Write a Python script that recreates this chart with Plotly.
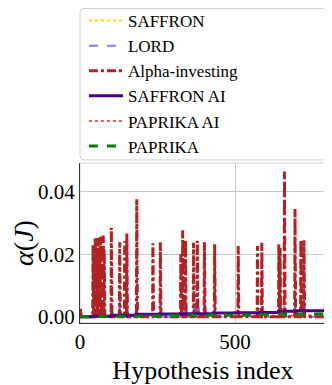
import plotly.graph_objects as go

# x extent of the run (hypothesis index)
n_hyp = 793

# Alpha-investing: spike positions and peak heights
ai_idx = [2, 42, 45, 49, 53, 58, 62, 66, 70, 75, 78, 101, 128, 144, 151, 183,
          235, 259, 325, 331, 340, 366, 378, 401, 434, 510, 572, 586, 641, 645,
          659, 693, 712, 722, 792]
ai_val = [0.0025, 0.0230, 0.0200, 0.0256, 0.0210, 0.0252, 0.0220, 0.0256, 0.0230,
          0.0260, 0.0215, 0.0285, 0.0238, 0.0242, 0.0267, 0.0376, 0.0235, 0.0238,
          0.0200, 0.0277, 0.0245, 0.0237, 0.0243, 0.0238, 0.0232, 0.0226, 0.0226,
          0.0237, 0.0232, 0.0220, 0.0465, 0.0345, 0.0245, 0.0245, 0.0232]

# LORD: small bumps after rejections
lord_idx = [45, 58, 75, 101, 128, 151, 185, 259, 333, 340, 370, 380, 401, 434,
            645, 659, 693, 712, 722, 790]
lord_val = [0.0040, 0.0053, 0.0045, 0.0030, 0.0048, 0.0035, 0.0028, 0.0048,
            0.0053, 0.0040, 0.0055, 0.0050, 0.0055, 0.0030, 0.0060, 0.0040,
            0.0035, 0.0055, 0.0045, 0.0070]

# SAFFRON AI: slowly increasing level
sai_x = [0, 40, 100, 180, 260, 340, 430, 500, 580, 640, 700, 793]
sai_y = [0.0, 0.0002, 0.0005, 0.0008, 0.0009, 0.0010, 0.0012, 0.0013, 0.0014,
         0.0018, 0.0019, 0.0020]

# PAPRIKA
pap_x = [0, 100, 200, 300, 400, 500, 600, 700, 793]
pap_y = [0.0, 0.0002, 0.0003, 0.0004, 0.0005, 0.0006, 0.0007, 0.0008, 0.0009]

# SAFFRON and PAPRIKA AI stay close to zero
saf_x = [0, 200, 400, 600, 793]
saf_y = [0.0, 0.0001, 0.0002, 0.0003, 0.0003]
pai_x = [0, 200, 400, 600, 793]
pai_y = [0.0, 0.0001, 0.0002, 0.0003, 0.0004]


def spikes(idx, val, base=0.0, after=2):
    xs, ys = [0], [base]
    for i, v in zip(idx, val):
        xs += [max(i - 1, 0), i, i + after]
        ys += [base, v, base]
    xs.append(n_hyp)
    ys.append(base)
    return xs, ys


FONT = "Liberation Serif, Times New Roman, serif"

ax, ay = spikes(ai_idx, ai_val)
lx, ly = spikes(lord_idx, lord_val, after=6)

fig = go.Figure()
fig.add_trace(go.Scatter(x=saf_x, y=saf_y, mode="lines", name="SAFFRON", legendrank=1,
                         line=dict(color="#FFD700", width=2, dash="dot")))
fig.add_trace(go.Scatter(x=pai_x, y=pai_y, mode="lines", name="PAPRIKA AI", legendrank=5,
                         line=dict(color="#E06060", width=2, dash="dot")))
fig.add_trace(go.Scatter(x=lx, y=ly, mode="lines", name="LORD", legendrank=2,
                         line=dict(color="#7B7BFF", width=2, dash="dash")))
fig.add_trace(go.Scatter(x=ax, y=ay, mode="lines", name="Alpha-investing", legendrank=3,
                         line=dict(color="#B22222", width=3, dash="dashdot")))
fig.add_trace(go.Scatter(x=sai_x, y=sai_y, mode="lines", name="SAFFRON AI", legendrank=4,
                         line=dict(color="#4B0082", width=3, shape="hv")))
fig.add_trace(go.Scatter(x=pap_x, y=pap_y, mode="lines", name="PAPRIKA", legendrank=6,
                         line=dict(color="#008000", width=3, dash="dash")))

# legend frame (rounded)
rx, ry = 0.016, 0.025
x0, x1, y0, y1 = 0.0, 1.0, 1.019, 1.9656
path = (f"M {x0+rx},{y0} L {x1-rx},{y0} Q {x1},{y0} {x1},{y0+ry} "
        f"L {x1},{y1-ry} Q {x1},{y1} {x1-rx},{y1} L {x0+rx},{y1} "
        f"Q {x0},{y1} {x0},{y1-ry} L {x0},{y0+ry} Q {x0},{y0} {x0+rx},{y0} Z")
fig.add_shape(type="path", path=path, xref="paper", yref="paper",
              line=dict(color="#D0D0D0", width=1))
# light frame on top / right of the axes
fig.add_shape(type="rect", xref="paper", yref="paper", x0=0, x1=1, y0=0, y1=1,
              line=dict(color="#D0D0D0", width=1), layer="below")

fig.update_layout(
    width=324, height=377,
    margin=dict(l=72, r=6, t=155, b=62, autoexpand=False),
    paper_bgcolor="white", plot_bgcolor="white",
    font=dict(family=FONT, color="black"),
    showlegend=True,
    legend=dict(x=0.016, xanchor="left", y=2.0, yanchor="top", itemwidth=34,
                bgcolor="rgba(0,0,0,0)", borderwidth=0,
                font=dict(family=FONT, size=17)),
    xaxis=dict(range=[0, n_hyp], dtick=500, showgrid=True, gridcolor="#C8C8C8",
               gridwidth=1, zeroline=False, showline=True, linecolor="#333333",
               linewidth=1, ticks="", tickfont=dict(size=21), automargin=False,
               title=dict(text="Hypothesis index", font=dict(size=26))),
    yaxis=dict(range=[-0.002, 0.0492], dtick=0.02, tickformat=".2f", showgrid=True,
               gridcolor="#C8C8C8", gridwidth=1, zeroline=False, showline=True,
               linecolor="#333333", linewidth=1, ticks="", tickfont=dict(size=21),
               automargin=False,
               title=dict(text="<i>α</i>(<i>J</i>)", font=dict(size=28))),
)

fig.write_html("out.html")
